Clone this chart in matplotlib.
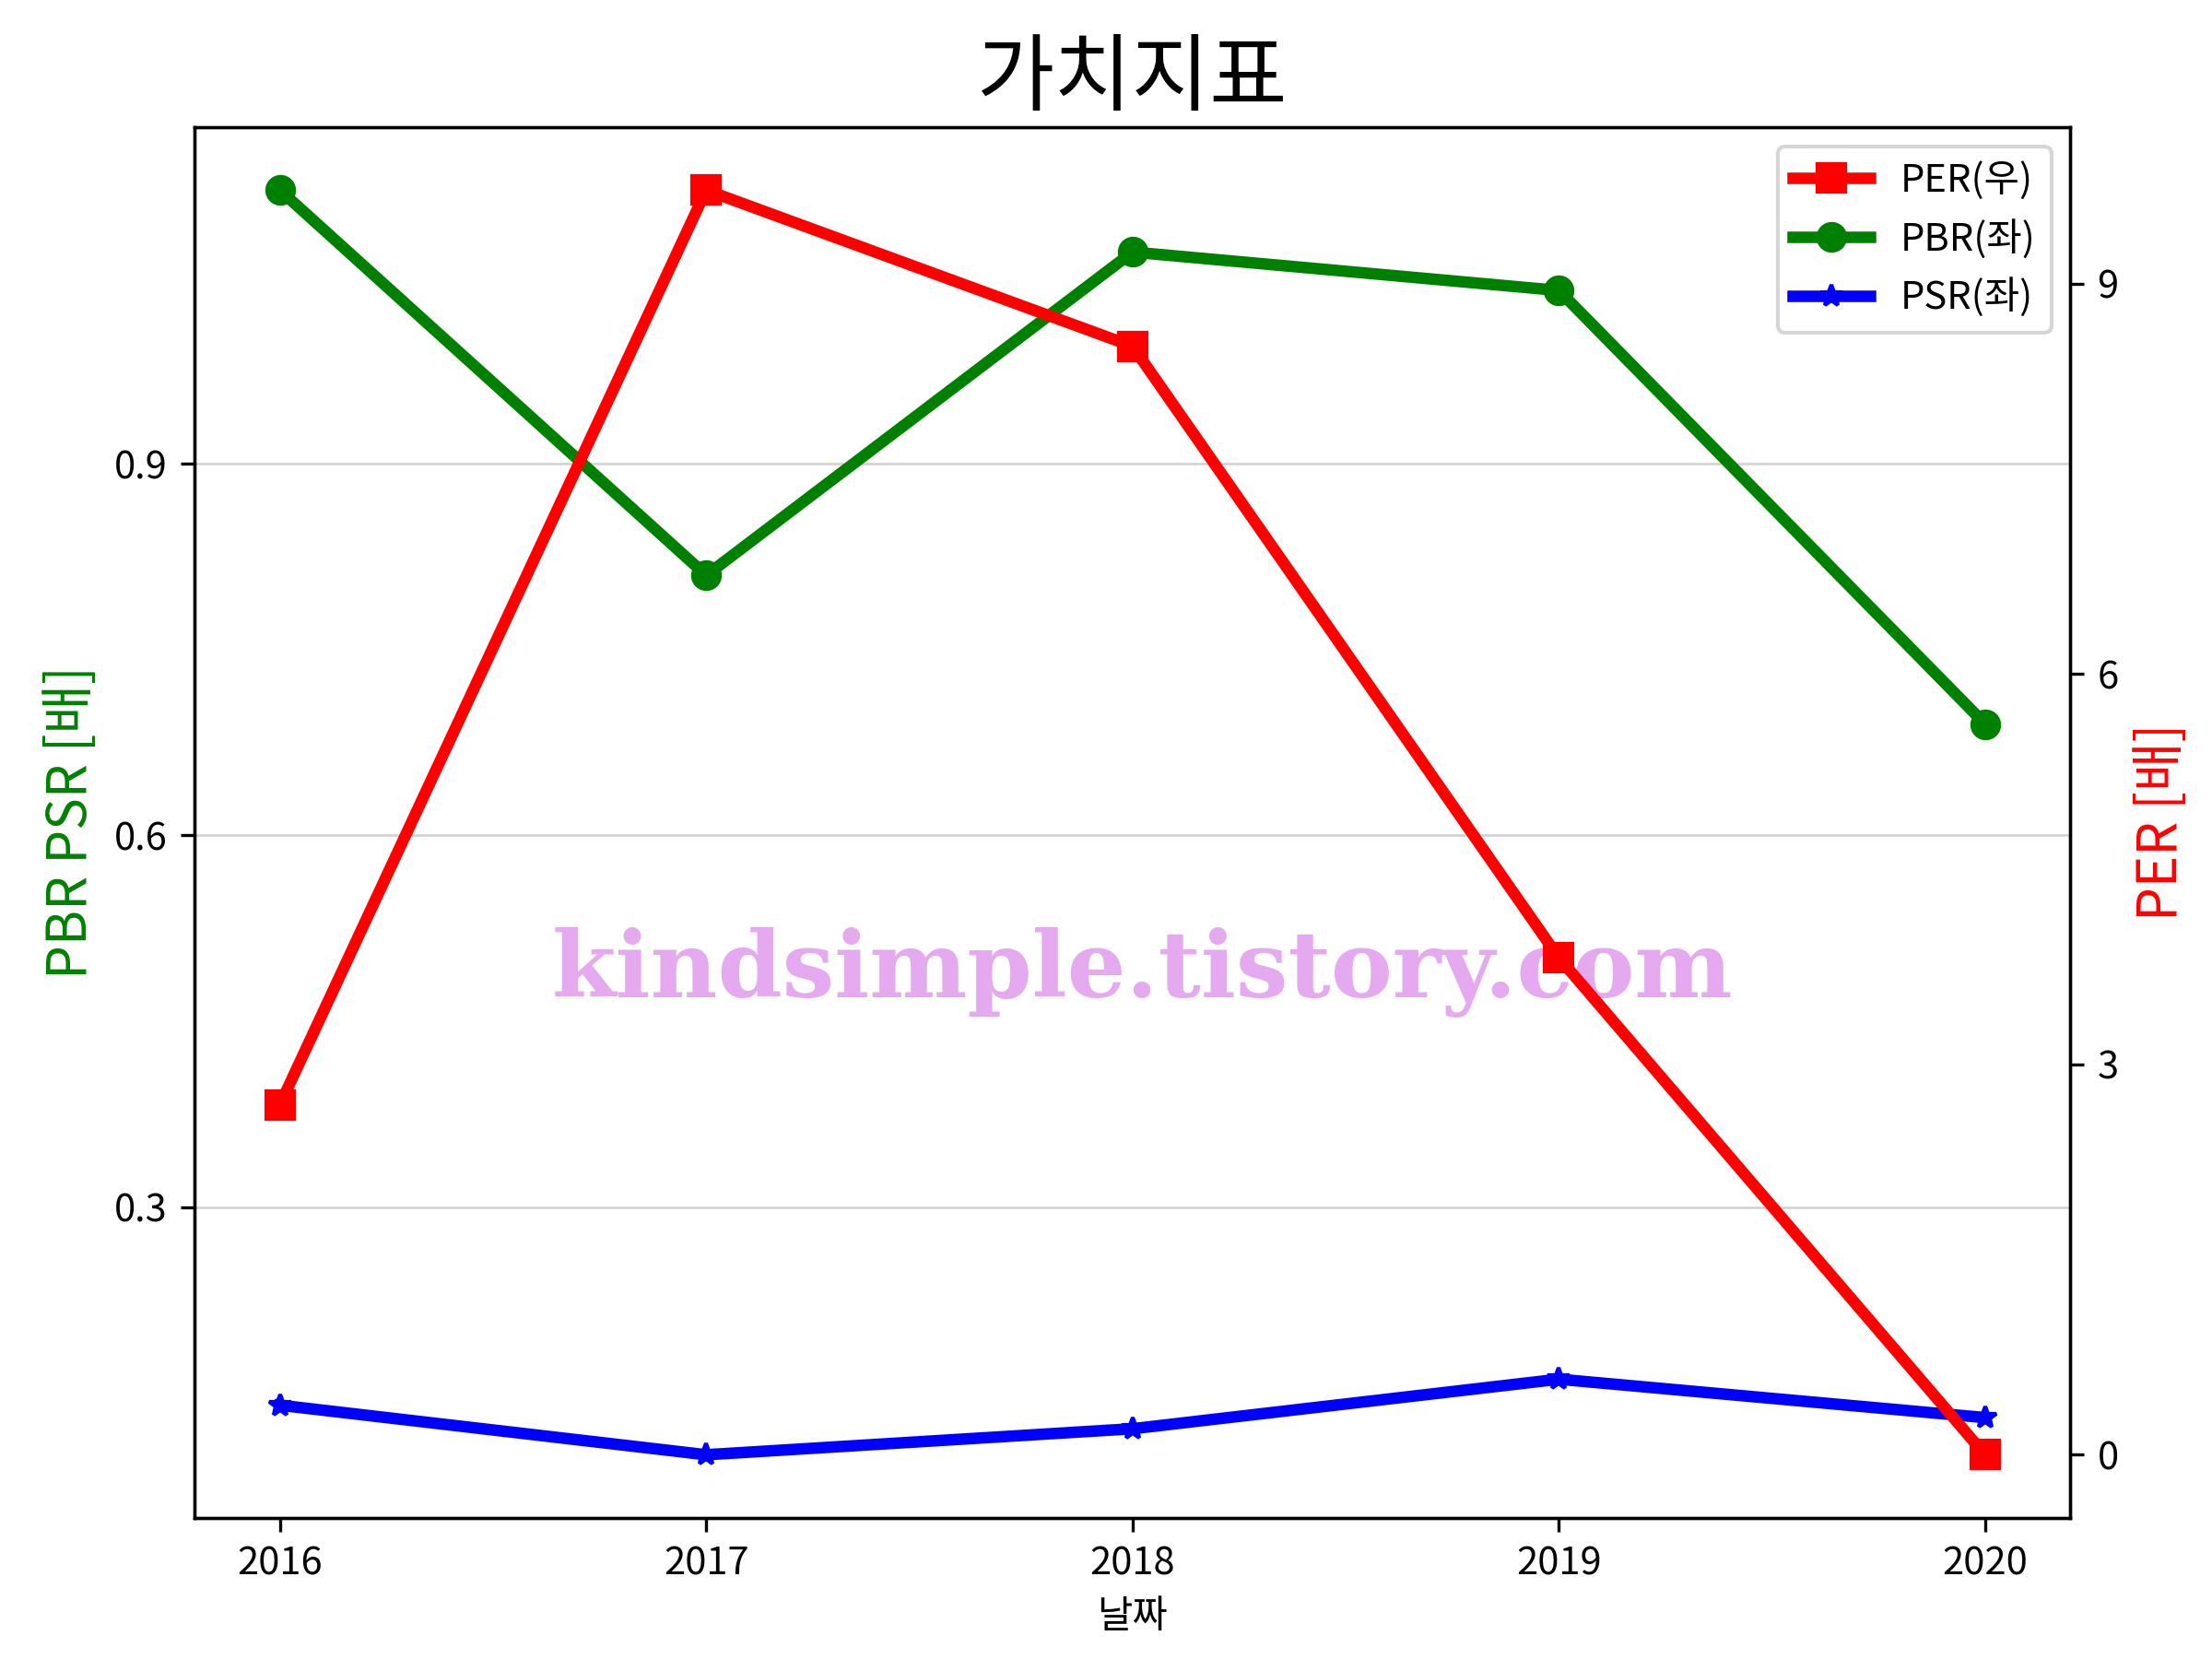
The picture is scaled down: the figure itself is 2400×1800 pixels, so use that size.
import matplotlib
matplotlib.use("Agg")
import matplotlib.pyplot as plt

plt.rcParams["font.family"] = ["Noto Sans CJK KR", "DejaVu Sans"]
plt.rcParams["axes.unicode_minus"] = False

years = ["2016", "2017", "2018", "2019", "2020"]
per = [2.69, 9.72, 8.52, 3.82, 0.0]
pbr = [1.121, 0.810, 1.071, 1.040, 0.690]
psr = [0.140, 0.100, 0.121, 0.161, 0.130]

fig, ax1 = plt.subplots(figsize=(8, 6), dpi=300)
ax2 = ax1.twinx()

l2, = ax1.plot(years, pbr, color="green", marker="o", linewidth=3, markersize=7, label="PBR(좌)")
l3, = ax1.plot(years, psr, color="blue", marker="*", linewidth=3, markersize=6, label="PSR(좌)")
l1, = ax2.plot(years, per, color="red", marker="s", linewidth=3, markersize=7, label="PER(우)")

ax1.set_yticks([0.3, 0.6, 0.9])
ax2.set_yticks([0, 3, 6, 9])
ax1.grid(axis="y", color="#d0d0d0", linewidth=0.6)

ax1.set_xlabel("날짜")
ax1.set_ylabel("PBR PSR [배]", color="green", fontsize=14)
ax2.set_ylabel("PER [배]", color="red", fontsize=14)
ax1.set_title("가치지표", fontsize=22)

ax2.legend(handles=[l1, l2, l3], loc="upper right")

# 워터마크
ax1.text(0.505, 0.392, "kindsimple.tistory.com", transform=ax1.transAxes,
         fontsize=24.1, fontweight="heavy", family="DejaVu Serif",
         color="#E4A9EE", ha="center", va="center", zorder=10)

plt.subplots_adjust(left=0.088, right=0.936, top=0.9235, bottom=0.085)
plt.savefig("out.png")
